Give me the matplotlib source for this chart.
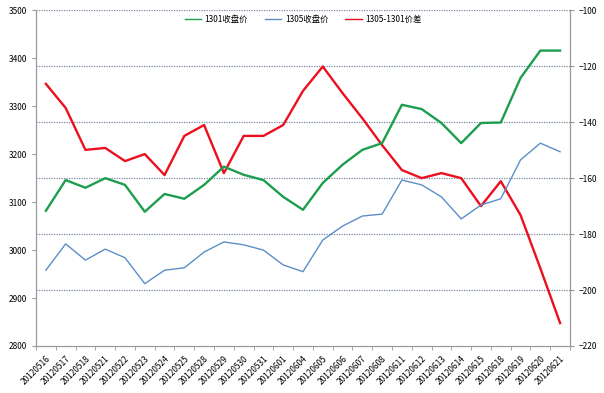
import matplotlib
matplotlib.use("Agg")
import matplotlib.pyplot as plt
from matplotlib.ticker import FixedLocator
from matplotlib.lines import Line2D

plt.rcParams['font.family'] = ['Noto Sans CJK SC', 'DejaVu Sans']

# trading days
dates = ['20120516', '20120517', '20120518', '20120521', '20120522', '20120523',
         '20120524', '20120525', '20120528', '20120529', '20120530', '20120531',
         '20120601', '20120604', '20120605', '20120606', '20120607', '20120608',
         '20120611', '20120612', '20120613', '20120614', '20120615', '20120618',
         '20120619', '20120620', '20120621']

# closing prices (left axis)
close_1301 = [3082, 3146, 3130, 3150, 3136, 3080, 3117, 3107, 3136, 3174, 3157, 3146,
              3111, 3084, 3140, 3178, 3209, 3223, 3303, 3294, 3265, 3223, 3265, 3266,
              3359, 3416, 3416]
close_1305 = [2958, 3013, 2979, 3002, 2984, 2930, 2958, 2963, 2996, 3017, 3011, 3000,
              2969, 2955, 3021, 3050, 3071, 3075, 3146, 3136, 3111, 3065, 3094, 3107,
              3188, 3223, 3205]
# spread 1305-1301 (right axis)
spread = [-126.3, -134.9, -149.9, -149.2, -153.9, -151.4, -158.9, -144.9, -141.0,
          -158.2, -144.9, -144.9, -141.0, -128.8, -120.1, -129.6, -138.6, -148.2,
          -157.1, -160.0, -158.2, -160.0, -170.0, -161.1, -173.2, -192.2, -211.8]

labels = ['1301收盘价', '1305收盘价', '1305-1301价差']
colors = ['#1d9e4e', '#5b8fc7', '#ec0f1e']

x = list(range(len(dates)))

fig = plt.figure(figsize=(6.04, 3.93), dpi=100)
ax1 = fig.add_axes([0.0596, 0.1196, 0.8841, 0.8542])
ax2 = ax1.twinx()

ax1.plot(x, close_1301, color=colors[0], lw=1.7)
ax1.plot(x, close_1305, color=colors[1], lw=1.0)
ax2.plot(x, spread, color=colors[2], lw=1.7)

ax1.set_ylim(2800, 3500)
ax1.set_yticks(range(2800, 3501, 100))
ax2.set_ylim(-220, -100)
ax2.set_yticks(range(-220, -99, 20))
ax1.set_xlim(-0.5, len(dates) - 0.5)

# dotted grid lines follow right axis ticks
for v in range(-200, -99, 20):
    ax2.axhline(v, color='#7b8aa6', lw=0.9, ls=(0, (1, 1)), zorder=0)

ax1.set_xticks(x)
ax1.set_xticklabels(dates, rotation=45, ha='right', rotation_mode='anchor', fontsize=6)
ax1.xaxis.set_minor_locator(FixedLocator([i - 0.5 for i in range(len(dates) + 1)]))
ax1.tick_params(axis='x', which='major', length=0, pad=6)
ax1.tick_params(axis='x', which='minor', length=3, color='#999999')
ax1.tick_params(axis='y', labelsize=6, length=3, color='#999999')
ax2.tick_params(axis='y', labelsize=6, length=3, color='#999999')

for ax in (ax1, ax2):
    ax.spines['top'].set_visible(False)
    for s in ('left', 'right', 'bottom'):
        ax.spines[s].set_color('#999999')

handles = [Line2D([], [], color=c, lw=1.0) for c in colors]
ax1.legend(handles, labels, loc='upper center', bbox_to_anchor=(0.5, 1.0),
           ncol=3, frameon=False, fontsize=6, handlelength=2, columnspacing=2.0,
           handletextpad=0.4, borderaxespad=0.2)
ax1.set_zorder(ax2.get_zorder() + 1)
ax1.patch.set_visible(False)

fig.savefig('out.png', dpi=100)
